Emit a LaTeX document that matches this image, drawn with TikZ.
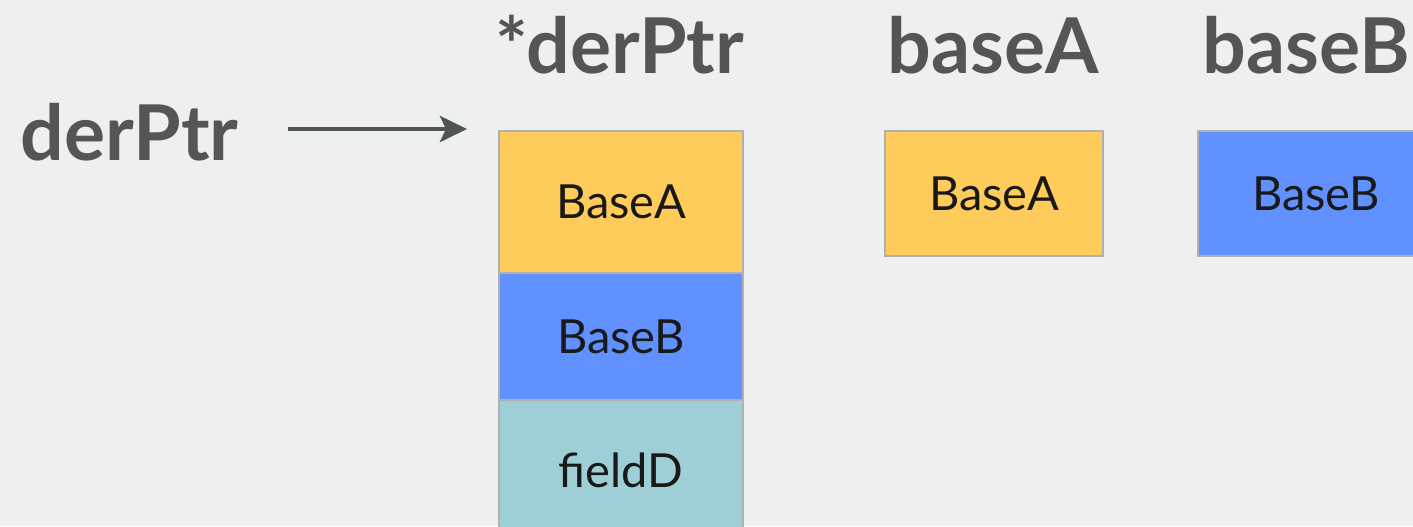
\documentclass[tikz,border=0pt]{standalone}
\usepackage{fontspec}
\setmainfont{Lato}
\usetikzlibrary{arrows.meta}
\definecolor{bg}{HTML}{EEEFF1}
\definecolor{ttl}{HTML}{555555}
\definecolor{arr}{HTML}{505553}
\definecolor{yel}{HTML}{FFCC5C}
\definecolor{blu}{HTML}{6191FF}
\definecolor{tea}{HTML}{9ECED6}
\definecolor{edge}{HTML}{B0B0B0}
\tikzset{
  title/.style={text=ttl, font=\fontsize{38.5}{42}\selectfont\bfseries, anchor=base, inner sep=0pt},
  cell/.style={draw=edge, line width=1.2pt, anchor=north west, inner sep=0pt,
    font=\fontsize{23.5}{28}\selectfont, text=black!90},
  ptr/.style={draw=arr, line width=2.4pt, -{Stealth[length=13.5pt,width=13pt,inset=3pt]}}
}
\begin{document}
\begin{tikzpicture}[x=0.5pt,y=-0.5pt]
\useasboundingbox (0,0) rectangle (1413,526);
\fill[bg] (0,0) rectangle (1413,526);
\clip (0,0) rectangle (1413,526);
% titles
\node[title, anchor=base west] (dptr) at (20,160) {derPtr};
\node[title] (tderef) at (620,73) {*derPtr};
\node[title] (tbaseA) at (993,73) {baseA};
\node[title] (tbaseB) at (1306,73) {baseB};
% stack of derived object
\node[cell, fill=yel, minimum width=122pt, minimum height=71pt] (sA) at (498,130) {BaseA};
\node[cell, fill=blu, minimum width=122pt, minimum height=63.5pt] (sB) at (498,272) {BaseB};
\node[cell, fill=tea, minimum width=122pt, minimum height=70pt] (sD) at (498,399) {fieldD};
% separate objects
\node[cell, fill=yel, minimum width=109pt, minimum height=62.5pt] (bA) at (884,130) {BaseA};
\node[cell, fill=blu, minimum width=118pt, minimum height=62.5pt] (bB) at (1197,130) {BaseB};
% pointer arrow
\coordinate (as) at (288,129);
\coordinate (ae) at (467,129);
\draw[ptr] (as) -- (ae);
\end{tikzpicture}
\end{document}
